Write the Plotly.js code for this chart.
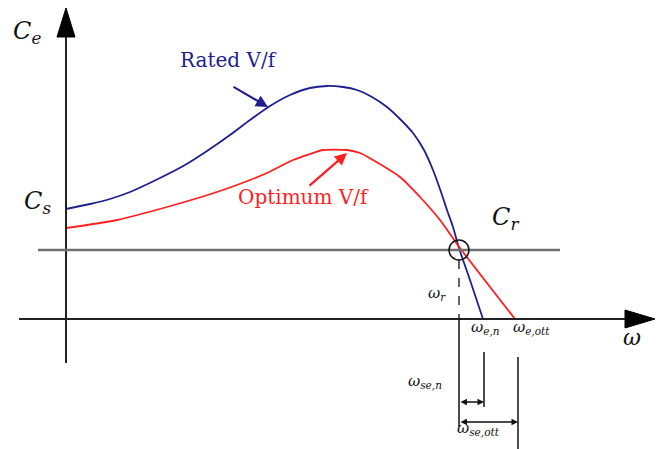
<!DOCTYPE html>
<html><head><meta charset="utf-8">
<script src="https://cdn.plot.ly/plotly-3.0.1.min.js"></script>
<style>html,body{margin:0;padding:0;background:#fff;}#c{width:657px;height:449px;}</style>
</head><body><div id="c"></div>
<script>
// Schematic torque-speed curves (omega, Ce) with origin at axis crossing
const ratedOmega = [0,24,44,64,94,119,141,164,184,204,224,244,261,277,291,306,321,334,347,358,367,375,381,387,393,405,417];
const ratedCe    = [110,115,120,127,141,154,168,184,199,213,224,231,233,232,229,222,212,200,186,169,149,127,109,92,71,36,0];
const optOmega = [0,51,101,151,184,201,227,244,257,281,294,307,334,354,374,394,449];
const optCe    = [91,99,112,127,139,146,159,165,169,169,166,159,142,122,99,71,0];
const loadCe = 69;          // Cr
const omegaR = 393;         // operating speed
const omegaEn = 417;        // no-load speed, rated V/f
const omegaEott = 450;      // no-load speed, optimum V/f
const labels = {Ce:'<i>C</i><sub><i>e</i></sub>', Cs:'<i>C</i><sub><i>s</i></sub>', Cr:'<i>C</i><sub><i>r</i></sub>',
  rated:'Rated V/f', opt:'Optimum V/f', w:'<i>ω</i>', wr:'<i>ω</i><sub><i>r</i></sub>',
  wen:'<i>ω</i><sub><i>e,n</i></sub>', weott:'<i>ω</i><sub><i>e,ott</i></sub>',
  wsen:'<i>ω</i><sub><i>se,n</i></sub>', wseott:'<i>ω</i><sub><i>se,ott</i></sub>'};

const navy = '#1f1f8f', red = '#ff1f1f', ax = '#222222';
const font = 'DejaVu Serif, serif';

const traces = [
  {x: ratedOmega, y: ratedCe, mode:'lines', line:{color:navy, width:1.8, shape:'spline', smoothing:0.7}, hoverinfo:'skip'},
  {x: optOmega, y: optCe, mode:'lines', line:{color:red, width:1.8, shape:'spline', smoothing:0.7}, hoverinfo:'skip'}
];

const xMin=-47, xEnd=559, xTip=589, yMin=-44, yEnd=282, yTip=311;
const shapes = [
  {type:'line', x0:xMin, x1:xEnd, y0:0, y1:0, line:{color:ax, width:2}},
  {type:'path', path:`M ${xEnd} -9 L ${xTip} 0 L ${xEnd} 9 Z`, fillcolor:'#000', line:{color:'#000', width:1}},
  {type:'line', x0:0, x1:0, y0:yMin, y1:yEnd, line:{color:ax, width:2}},
  {type:'path', path:`M -9 ${yEnd} L 0 ${yTip} L 9 ${yEnd} Z`, fillcolor:'#000', line:{color:'#000', width:1}},
  {type:'line', x0:-28, x1:494, y0:loadCe, y1:loadCe, line:{color:'#707070', width:2.5}},
  {type:'circle', x0:omegaR-10, x1:omegaR+10, y0:loadCe-10, y1:loadCe+10, line:{color:'#111', width:1.5}},
  {type:'line', x0:omegaR, x1:omegaR, y0:loadCe-10, y1:0, line:{color:'#111', width:1.3, dash:'dash'}},
  {type:'line', x0:omegaR, x1:omegaR, y0:0, y1:-108, line:{color:'#111', width:1.5}},
  {type:'line', x0:omegaEn+1, x1:omegaEn+1, y0:-33, y1:-88, line:{color:'#111', width:1.5}},
  {type:'line', x0:omegaEott+2, x1:omegaEott+2, y0:-38, y1:-132, line:{color:'#111', width:1.5}}
];

function txt(x,y,text,size,opts){return Object.assign({x:x,y:y,xref:'x',yref:'y',text:text,showarrow:false,font:{family:font,size:size,color:'#111'}},opts||{});}
const annotations = [
  txt(-39,287,labels.Ce,24),
  txt(-29,117,labels.Cs,24),
  txt(439,101,labels.Cr,24),
  txt(162,259,labels.rated,20,{font:{family:font,size:20,color:navy}}),
  txt(237,122,labels.opt,20,{font:{family:font,size:20,color:red}}),
  txt(566,-18,labels.w,22),
  txt(371,26,labels.wr,15),
  txt(403,-8,labels.wen,15,{xanchor:'left'}),
  txt(445,-8,labels.weott,15,{xanchor:'left'}),
  txt(340,-62,labels.wsen,15,{xanchor:'left'}),
  txt(389,-109,labels.wseott,15,{xanchor:'left'}),
  {x:202,y:212,ax:166,ay:233,xref:'x',yref:'y',axref:'x',ayref:'y',text:'',showarrow:true,arrowhead:2,arrowsize:1.1,arrowwidth:2.2,arrowcolor:navy},
  {x:281,y:166,ax:242,ay:132,xref:'x',yref:'y',axref:'x',ayref:'y',text:'',showarrow:true,arrowhead:2,arrowsize:1.1,arrowwidth:2.2,arrowcolor:red},
  {x:omegaEn+1,y:-83,ax:omegaR,ay:-83,xref:'x',yref:'y',axref:'x',ayref:'y',text:'',showarrow:true,arrowhead:2,startarrowhead:2,arrowside:'end+start',arrowsize:1,startarrowsize:1,arrowwidth:1.3,arrowcolor:'#111'},
  {x:omegaEott+2,y:-103,ax:omegaR,ay:-103,xref:'x',yref:'y',axref:'x',ayref:'y',text:'',showarrow:true,arrowhead:2,startarrowhead:2,arrowside:'end+start',arrowsize:1,startarrowsize:1,arrowwidth:1.3,arrowcolor:'#111'}
];

const layout = {
  width:657, height:449, margin:{l:0,r:0,t:0,b:0}, showlegend:false,
  paper_bgcolor:'#fff', plot_bgcolor:'#fff',
  font:{family:font},
  xaxis:{range:[-66,591], visible:false, fixedrange:true},
  yaxis:{range:[-130,319], visible:false, fixedrange:true},
  shapes:shapes, annotations:annotations
};
Plotly.newPlot('c', traces, layout, {staticPlot:true, displayModeBar:false});
</script></body></html>
